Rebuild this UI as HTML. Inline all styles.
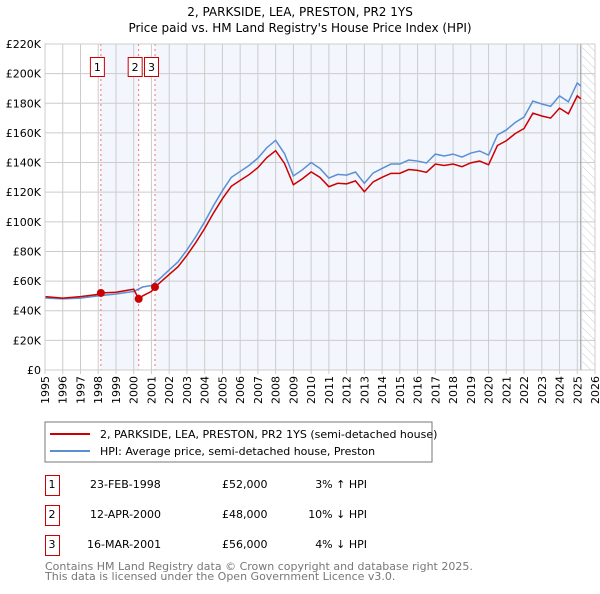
<!DOCTYPE html>
<html><head><meta charset="utf-8"><style>
body{margin:0;width:600px;height:590px;background:#fff;font-family:"DejaVu Sans","Liberation Sans",sans-serif;overflow:hidden}
svg text{font-family:"DejaVu Sans","Liberation Sans",sans-serif}
</style></head><body>
<svg id="chart" width="600" height="590" xmlns="http://www.w3.org/2000/svg">
<text x="300" y="16" font-size="12" text-anchor="middle">2, PARKSIDE, LEA, PRESTON, PR2 1YS</text>
<text x="300" y="32" font-size="12" text-anchor="middle">Price paid vs. HM Land Registry's House Price Index (HPI)</text>
<defs><pattern id="hatch" width="6" height="6" patternUnits="userSpaceOnUse" patternTransform="rotate(-45)"><line x1="0" y1="0" x2="0" y2="6" stroke="#ccc" stroke-width="1"/></pattern></defs>
<g id="plot"></g>
<rect x="45" y="422" width="387" height="40" fill="#fff" stroke="#777"/>
<line x1="50" y1="434" x2="90" y2="434" stroke="#cc0000" stroke-width="2"/>
<text x="100" y="438" font-size="11">2, PARKSIDE, LEA, PRESTON, PR2 1YS (semi-detached house)</text>
<line x1="50" y1="451" x2="90" y2="451" stroke="#5b8fd4" stroke-width="2"/>
<text x="100" y="455" font-size="11">HPI: Average price, semi-detached house, Preston</text>
<g font-size="11">
<rect x="45.5" y="475.5" width="14" height="20" fill="none" stroke="#cc0000"/><text x="52" y="488" text-anchor="middle">1</text>
<text x="90" y="488">23-FEB-1998</text><text x="222" y="488">£52,000</text><text x="367" y="488" text-anchor="end">3% ↑ HPI</text>
<rect x="45.5" y="505.5" width="14" height="20" fill="none" stroke="#cc0000"/><text x="52" y="518" text-anchor="middle">2</text>
<text x="90" y="518">12-APR-2000</text><text x="222" y="518">£48,000</text><text x="367" y="518" text-anchor="end">10% ↓ HPI</text>
<rect x="45.5" y="535.5" width="14" height="20" fill="none" stroke="#cc0000"/><text x="52" y="548" text-anchor="middle">3</text>
<text x="87" y="548">16-MAR-2001</text><text x="222" y="548">£56,000</text><text x="367" y="548" text-anchor="end">4% ↓ HPI</text>
</g>
<text x="45" y="570" font-size="11" fill="#777">Contains HM Land Registry data © Crown copyright and database right 2025.</text>
<text x="45" y="580" font-size="11" fill="#777">This data is licensed under the Open Government Licence v3.0.</text>
</svg>
<script>
const hpiYears=[1995,1996,1997,1998,1999,2000,2000.5,2001,2001.5,2002,2002.5,2003,2003.5,2004,2004.5,2005,2005.5,2006,2006.5,2007,2007.5,2008,2008.5,2009,2009.5,2010,2010.5,2011,2011.5,2012,2012.5,2013,2013.5,2014,2014.5,2015,2015.5,2016,2016.5,2017,2017.5,2018,2018.5,2019,2019.5,2020,2020.5,2021,2021.5,2022,2022.5,2023,2023.5,2024,2024.5,2025,2025.2];
const hpiValues=[48.6,48,48.5,50,51.3,53,56,57,62,67.5,73,81,90,100,111,121,130,134,138,143,150,155,146,131,135,140,136,129.5,132,131.5,133.6,126,133,136,139,139,141.7,141,139.7,145.7,144.4,145.7,143.7,146.4,147.8,145,158.6,162,167,170.7,181.5,179.5,178,185,181,193.7,191.6];
const priceYears=[1995,1996,1997,1998,1998.15,1999,2000,2000.28,2000.5,2001,2001.2,2001.5,2002,2002.5,2003,2003.5,2004,2004.5,2005,2005.5,2006,2006.5,2007,2007.5,2008,2008.5,2009,2009.5,2010,2010.5,2011,2011.5,2012,2012.5,2013,2013.5,2014,2014.5,2015,2015.5,2016,2016.5,2017,2017.5,2018,2018.5,2019,2019.5,2020,2020.5,2021,2021.5,2022,2022.5,2023,2023.5,2024,2024.5,2025,2025.2];
const priceValues=[49.5,48.5,49.5,51,52,52.5,54.5,48,50,53,56,59.2,64.5,69.7,77.4,86,95.5,106,115.6,124,128,131.8,136.6,143.3,148,139.4,125,129,133.7,130,123.7,126,125.6,127.6,120.3,127,130,132.7,132.7,135.3,134.7,133.4,139,138,139,137.2,139.8,141,138.5,151.5,154.7,159.5,163,173.3,171.4,170,176.7,172.9,185,183];
const saleYears=[1998.15,2000.28,2001.2];
const saleValues=[52,48,56];
const saleLabels=["1","2","3"];
const yTicks=[0,20,40,60,80,100,120,140,160,180,200,220];
const xTicks=[1995,1996,1997,1998,1999,2000,2001,2002,2003,2004,2005,2006,2007,2008,2009,2010,2011,2012,2013,2014,2015,2016,2017,2018,2019,2020,2021,2022,2023,2024,2025,2026];
const L=45,R=595,T=44,B=370;
const x=v=>L+(v-1995)/31*(R-L);
const y=v=>B-v/220*(B-T);
const ns="http://www.w3.org/2000/svg";
const g=document.getElementById('plot');
function mk(tag,attrs){const e=document.createElementNS(ns,tag);for(const k in attrs)e.setAttribute(k,attrs[k]);g.appendChild(e);return e;}
let bg=mk('rect',{x:L,y:T,width:R-L,height:B-T,fill:'#fff'});


let s1=mk('rect',{x:x(saleYears[0]),y:T,width:x(saleYears[1])-x(saleYears[0]),height:B-T,fill:'#f3f6fd'});


let s2=mk('rect',{x:x(saleYears[2]),y:T,width:x(2025.3)-x(saleYears[2]),height:B-T,fill:'#f3f6fd'});


let hz=mk('rect',{x:x(2025.3),y:T,width:R-x(2025.3),height:B-T,fill:'url(#hatch)'});


xTicks.forEach(t=>{let l=mk('line',{x1:x(t),x2:x(t),y1:T,y2:B+4,stroke:'#ccc'});


let tx=mk('text',{x:0,y:0,'font-size':11,'text-anchor':'end',transform:'translate('+(x(t)+4)+','+(B+6)+') rotate(-90)'});tx.textContent=t;

});
yTicks.forEach(t=>{let l=mk('line',{x1:L,x2:R,y1:y(t),y2:y(t),stroke:'#ccc'});


let tx=mk('text',{x:L-4,y:y(t)+4,'font-size':11,'text-anchor':'end'});tx.textContent=t===0?'£0':'£'+t+'K';

});
let vl=mk('line',{x1:x(2025.2),x2:x(2025.2),y1:T,y2:B,stroke:'#999'});


saleYears.forEach((s,i)=>{let l=mk('line',{x1:x(s),x2:x(s),y1:T,y2:B,stroke:'#f07070','stroke-dasharray':'2,3'});


let r=mk('rect',{x:x(s)-10.5,y:57.5,width:14,height:19,fill:'#fff',stroke:'#cc0000'});


let t=mk('text',{x:x(s)-3.5,y:71,'font-size':11,'text-anchor':'middle'});t.textContent=saleLabels[i];

});
let hp=mk('polyline',{points:hpiYears.map((v,i)=>x(v)+','+y(hpiValues[i])).join(' '),fill:'none',stroke:'#5b8fd4','stroke-width':1.5});


let pp=mk('polyline',{points:priceYears.map((v,i)=>x(v)+','+y(priceValues[i])).join(' '),fill:'none',stroke:'#cc0000','stroke-width':1.5});


saleYears.forEach((s,i)=>{let c=mk('circle',{cx:x(s),cy:y(saleValues[i]),r:4,fill:'#cc0000'});

});
let fr=mk('rect',{x:L,y:T,width:R-L,height:B-T,fill:'none',stroke:'#ccc'});


</script>
</body></html>
